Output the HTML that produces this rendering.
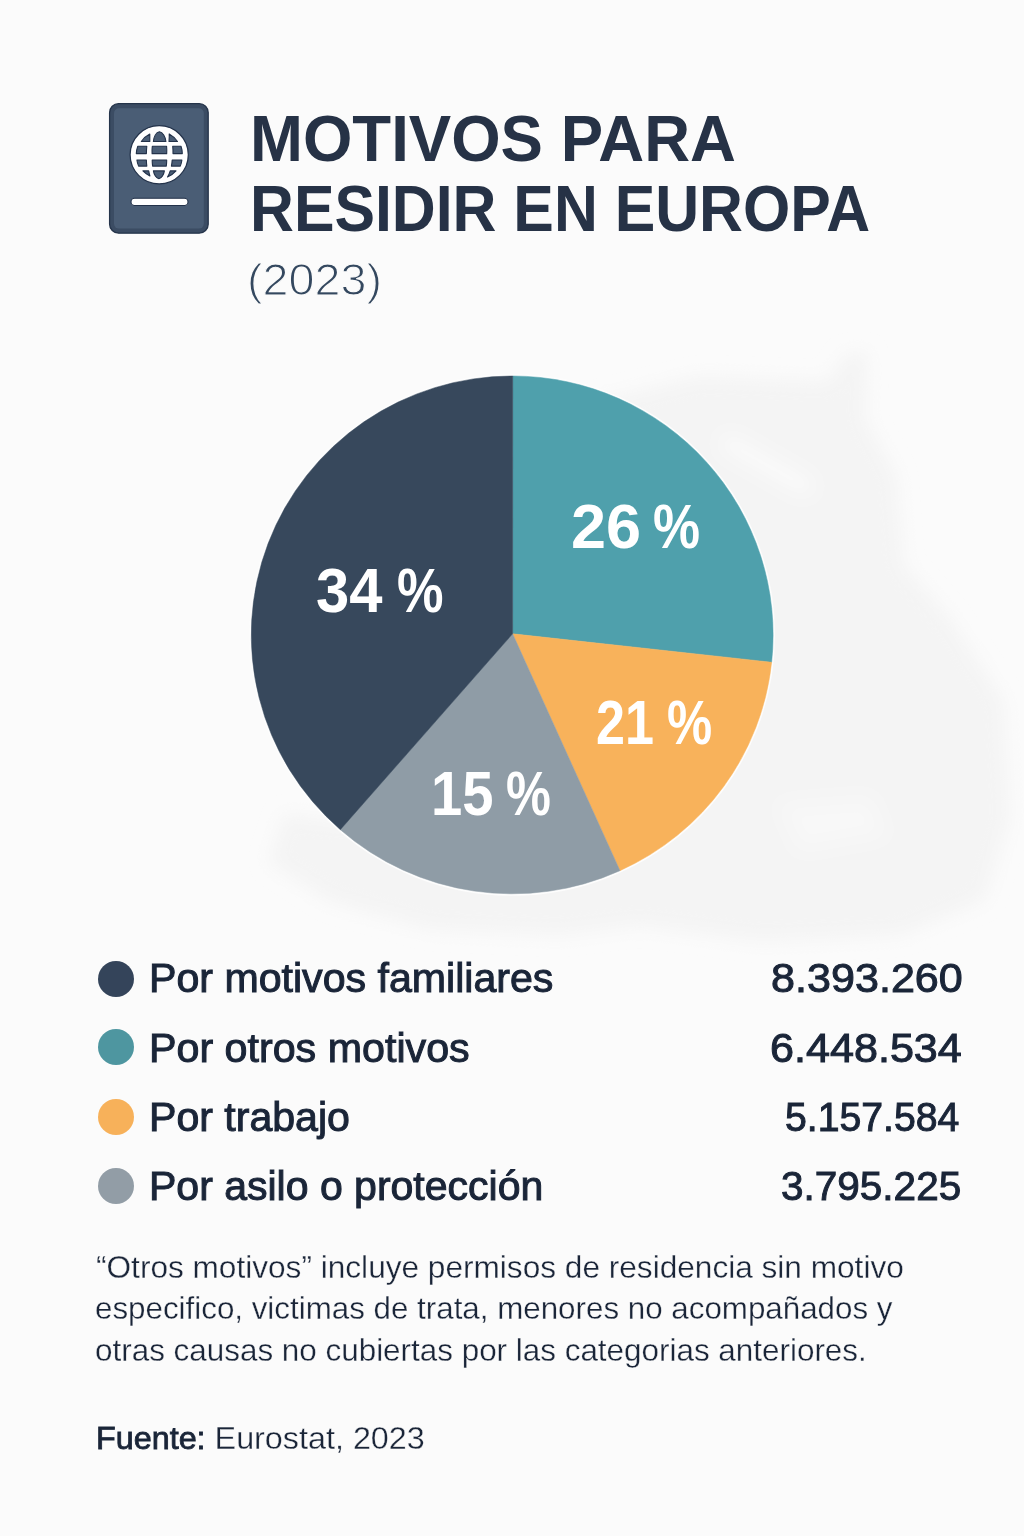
<!DOCTYPE html>
<html lang="es"><head><meta charset="utf-8"><title>Motivos para residir en Europa (2023)</title>
<style>
html,body{margin:0;padding:0}
body{width:1024px;height:1536px;background:#fbfbfb;position:relative;overflow:hidden;font-family:"Liberation Sans",sans-serif}
.t{position:absolute;white-space:nowrap;line-height:1;transform-origin:0 0;margin:0}
.sb{-webkit-text-stroke:1px currentColor}
.th{-webkit-text-stroke:0.3px #fbfbfb}
.th2{-webkit-text-stroke:1.2px #fbfbfb}
#f1{-webkit-text-stroke:0}
#f1 b{font-weight:400;-webkit-text-stroke:0.8px currentColor}
#f1 span{-webkit-text-stroke:0.3px #fbfbfb}
svg{position:absolute;left:0;top:0}
.dot{position:absolute;width:36px;height:36px;border-radius:50%}
</style></head><body>
<svg id="bg" width="1024" height="1536" viewBox="0 0 1024 1536">
<defs><filter id="bl" x="-10%" y="-10%" width="120%" height="120%"><feGaussianBlur stdDeviation="9"/></filter></defs>
<g id="map" filter="url(#bl)">
<path fill="#f4f4f4" d="M600 400L700 376L828 381L846 354L868 352L866 420L897 475L904 565L950 618L1004 700L1010 820L985 900L900 936L760 942L640 926L560 936L430 930L330 902L268 862L284 814L350 822L420 700Z"/>
<path fill="none" stroke="#fbfbfb" stroke-width="16" stroke-linecap="round" d="M730 444L804 486"/>
<path fill="#f8f8f8" d="M780 805L870 798L885 835L800 850Z"/>
</g>

<g id="pie"><ellipse cx="512.2" cy="634.9" rx="261.8" ry="259.8" fill="#ffffff" stroke="#fdfdfd" stroke-width="2"/><path d="M512.6 633.8L512.70 376.00A260.9 258.9 0 0 1 771.64 662.26Z" fill="#4fa0ac" stroke="#4fa0ac" stroke-width="0.5"/>
<path d="M512.6 633.8L771.64 662.26A260.9 258.9 0 0 1 619.94 870.69Z" fill="#f8b25b" stroke="#f8b25b" stroke-width="0.5"/>
<path d="M512.6 633.8L619.94 870.69A260.9 258.9 0 0 1 340.35 829.70Z" fill="#8f9ca6" stroke="#8f9ca6" stroke-width="0.5"/>
<path d="M512.6 633.8L340.35 829.70A260.9 258.9 0 0 1 512.70 376.00Z" fill="#37485c" stroke="#37485c" stroke-width="0.5"/></g>
<g id="passport">
<rect x="109.6" y="103.6" width="98.6" height="129.6" rx="9" ry="9" fill="#3b4c63" stroke="#25344a" stroke-width="1.3"/>
<rect x="114" y="108.2" width="89.8" height="120.4" rx="5" ry="5" fill="#4a5d75"/>
<circle cx="159.2" cy="154.8" r="29.1" fill="#ffffff" stroke="#23324a" stroke-width="1.2"/>
<g fill="#4a5d75" stroke="#23324a" stroke-width="1.1" stroke-linejoin="round">
<path d="M141.3 141.5H149.8V134.1A23 23 0 0 0 141.3 141.5Z"/>
<path d="M153.4 141.5C153.9 137 156 132.1 159.4 131.8C162.8 132.1 165.4 137 165.9 141.5Z"/>
<path d="M169 141.5H177.5A23 23 0 0 0 169.2 133.9C169.4 136 169.2 139 169 141.5Z"/>
<path d="M137.8 146.3H146.8Q146.4 150 146.4 153.6H136.3A23 23 0 0 1 137.8 146.3Z"/>
<path d="M152.3 146.3H166.6Q166.9 150 166.7 153.6H152.1Q151.9 150 152.3 146.3Z"/>
<path d="M172.7 146.3H181A23 23 0 0 1 182.3 153.6H173Q173.1 150 172.7 146.3Z"/>
<path d="M136.9 160H146.4Q146.4 163 146.8 166.1H138.6A23 23 0 0 1 136.9 160Z"/>
<path d="M152.2 160H166.7Q166.7 163 166.3 166.1H152.6Q152.2 163 152.2 160Z"/>
<path d="M172.2 160H181.9A23 23 0 0 1 180.3 166.1H171.4Q172 163 172.2 160Z"/>
<path d="M142.9 170.9H148.7Q149.2 173.6 149.9 175.9A23 23 0 0 1 142.9 170.9Z"/>
<path d="M153.4 170.9H164.4C163.8 174.5 161.6 178.4 158.9 178.6C156.2 178.4 154 174.5 153.4 170.9Z"/>
<path d="M170.2 170.9H176A23 23 0 0 1 167.5 177Q169.3 174.2 170.2 170.9Z"/>
</g>
<rect x="131" y="198.3" width="57" height="7.2" rx="3.6" ry="3.6" fill="#ffffff" stroke="#23324a" stroke-width="1.1"/>
</g>

</svg>
<div class="dot" style="left:98px;top:960.75px;background:#34445a"></div>
<div class="dot" style="left:98px;top:1029px;background:#4e96a0"></div>
<div class="dot" style="left:98px;top:1099px;background:#f7b15a"></div>
<div class="dot" style="left:98px;top:1168px;background:#929da6"></div>
<div id="t1" class="t" style="left:249.50px;top:105.89px;font-size:65.40px;font-weight:700;color:#263246;transform:scaleX(0.9717);">MOTIVOS PARA</div>
<div id="t2" class="t" style="left:249.50px;top:175.89px;font-size:65.40px;font-weight:700;color:#263246;transform:scaleX(0.9293);">RESIDIR EN EUROPA</div>
<div id="t3" class="t th2" style="left:247.00px;top:257.83px;font-size:44.50px;font-weight:400;color:#34485f;transform:scaleX(1.0491);">(2023)</div>
<div class="pl"><span id="p34a" class="t" style="left:316.00px;top:558.84px;font-size:62.50px;font-weight:700;color:#ffffff;transform:scaleX(0.9560);">34</span> <span id="p34b" class="t" style="left:396.50px;top:558.84px;font-size:62.50px;font-weight:700;color:#ffffff;transform:scaleX(0.8372);">%</span></div>
<div class="pl"><span id="p26a" class="t" style="left:571.00px;top:495.34px;font-size:62.50px;font-weight:700;color:#ffffff;transform:scaleX(1.0082);">26</span> <span id="p26b" class="t" style="left:652.75px;top:495.34px;font-size:62.50px;font-weight:700;color:#ffffff;transform:scaleX(0.8471);">%</span></div>
<div class="pl"><span id="p21a" class="t" style="left:596.25px;top:690.84px;font-size:62.50px;font-weight:700;color:#ffffff;transform:scaleX(0.8336);">21</span> <span id="p21b" class="t" style="left:667.25px;top:690.84px;font-size:62.50px;font-weight:700;color:#ffffff;transform:scaleX(0.8123);">%</span></div>
<div class="pl"><span id="p15a" class="t" style="left:430.50px;top:762.09px;font-size:62.50px;font-weight:700;color:#ffffff;transform:scaleX(0.8990);">15</span> <span id="p15b" class="t" style="left:506.00px;top:762.09px;font-size:62.50px;font-weight:700;color:#ffffff;transform:scaleX(0.8081);">%</span></div>
<div id="l1" class="t sb" style="left:149.00px;top:958.22px;font-size:40.50px;font-weight:400;color:#1a2538;transform:scaleX(1.0152);">Por motivos familiares</div>
<div id="l2" class="t sb" style="left:149.00px;top:1027.72px;font-size:40.50px;font-weight:400;color:#1a2538;transform:scaleX(1.0177);">Por otros motivos</div>
<div id="l3" class="t sb" style="left:149.00px;top:1096.72px;font-size:40.50px;font-weight:400;color:#1a2538;transform:scaleX(1.0142);">Por trabajo</div>
<div id="l4" class="t sb" style="left:149.00px;top:1166.22px;font-size:40.50px;font-weight:400;color:#1a2538;transform:scaleX(1.0124);">Por asilo o protección</div>
<div id="n1" class="t sb" style="left:771.00px;top:958.22px;font-size:40.50px;font-weight:400;color:#1a2538;transform:scaleX(1.0647);">8.393.260</div>
<div id="n2" class="t sb" style="left:770.30px;top:1027.72px;font-size:40.50px;font-weight:400;color:#1a2538;transform:scaleX(1.0647);">6.448.534</div>
<div id="n3" class="t sb" style="left:785.15px;top:1096.72px;font-size:40.50px;font-weight:400;color:#1a2538;transform:scaleX(0.9678);">5.157.584</div>
<div id="n4" class="t sb" style="left:781.10px;top:1166.22px;font-size:40.50px;font-weight:400;color:#1a2538;transform:scaleX(1.0001);">3.795.225</div>
<div id="d1" class="t th" style="left:96.00px;top:1252.18px;font-size:30.50px;font-weight:400;color:#1a2538;transform:scaleX(1.0360);">“Otros motivos” incluye permisos de residencia sin motivo</div>
<div id="d2" class="t th" style="left:95.00px;top:1293.18px;font-size:30.50px;font-weight:400;color:#1a2538;transform:scaleX(1.0271);">especifico, victimas de trata, menores no acompañados y</div>
<div id="d3" class="t th" style="left:95.00px;top:1334.68px;font-size:30.50px;font-weight:400;color:#1a2538;transform:scaleX(1.0299);">otras causas no cubiertas por las categorias anteriores.</div>
<div id="f1" class="t th" style="left:96.00px;top:1422.93px;font-size:30.50px;font-weight:400;color:#1a2538;transform:scaleX(1.0595);"><b>Fuente:</b> <span>Eurostat, 2023</span></div>
</body></html>
